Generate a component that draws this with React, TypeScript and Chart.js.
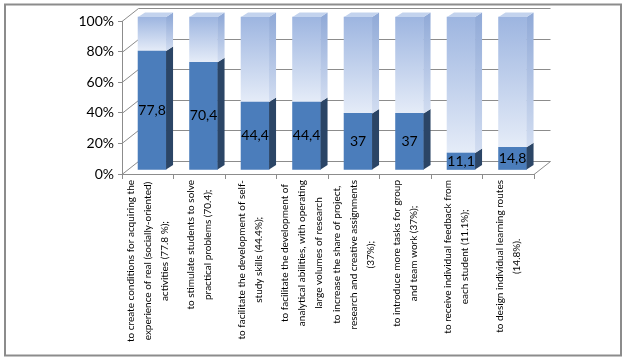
import React, { useEffect, useRef } from 'react';
import { Chart, registerables } from 'chart.js';

Chart.register(...registerables);

// ---- data ----
const categories: string[][] = [
  ['to create conditions for acquiring the', 'experience of real (socially-oriented)', 'activities (77.8 %);'],
  ['to stimulate students to solve', 'practical problems (70.4);'],
  ['to facilitate the development of self-', 'study skills (44.4%);'],
  ['to facilitate the development of', 'analytical abilities, with operating', 'large volumes of research'],
  ['to increase the share of project,', 'research and creative assignments', '(37%);'],
  ['to introduce more tasks for group', 'and team work (37%);'],
  ['to receive individual feedback from', 'each student (11.1%);'],
  ['to design individual learning routes', '(14.8%).'],
];
const shareValues = [77.8, 70.4, 44.4, 44.4, 37, 37, 11.1, 14.8];
const remainderValues = [22.2, 29.6, 55.6, 55.6, 63, 63, 88.9, 85.2];
const valueLabels = ['77,8', '70,4', '44,4', '44,4', '37', '37', '11,1', '14,8'];
const yTickLabels = ['0%', '20%', '40%', '60%', '80%', '100%'];

// ---- styling constants ----
const WALL_DX = 16.5;
const WALL_DY = -13;
const BAR_DX = 4.3;
const BAR_DY = -4;
const SIDE_DX = 7;
const SIDE_DY = -4.5;
const GRID_COLOR = '#8c8c8c';
const LABEL_TOP = 180;
const LABEL_LINE_H = 17;

const threeDPlugin = {
  id: 'threeD',
  beforeDraw(chart: any) {
    const ctx = chart.ctx;
    ctx.save();
    ctx.fillStyle = '#ffffff';
    ctx.fillRect(0, 0, chart.width, chart.height);
    ctx.strokeStyle = '#8c8c8c';
    ctx.lineWidth = 2;
    ctx.strokeRect(5, 4.5, 616, 351);
    ctx.restore();
  },
  beforeDatasetsDraw(chart: any) {
    const { ctx, chartArea: a, scales } = chart;
    const y = scales.y;
    ctx.save();
    ctx.strokeStyle = GRID_COLOR;
    ctx.lineWidth = 1;
    ctx.beginPath();
    y.ticks.forEach((t: any) => {
      const py = Math.round(y.getPixelForValue(t.value)) + 0.5;
      ctx.moveTo(a.left, py);
      ctx.lineTo(a.left + WALL_DX, py + WALL_DY);
      ctx.lineTo(a.right + WALL_DX, py + WALL_DY);
    });
    const pb = Math.round(y.getPixelForValue(0)) + 0.5;
    ctx.moveTo(a.right, pb);
    ctx.lineTo(a.right + WALL_DX, pb + WALL_DY);
    ctx.stroke();
    ctx.restore();
    ctx.save();
    ctx.translate(BAR_DX, BAR_DY);
  },
  afterDatasetsDraw(chart: any) {
    const ctx = chart.ctx;
    const dark = chart.getDatasetMeta(0).data;
    const light = chart.getDatasetMeta(1).data;
    // side faces
    const side = (el: any, fill: any) => {
      const { x, y, base, width } = el.getProps(['x', 'y', 'base', 'width'], true);
      const r = x + width / 2;
      ctx.beginPath();
      ctx.moveTo(r, y);
      ctx.lineTo(r + SIDE_DX, y + SIDE_DY);
      ctx.lineTo(r + SIDE_DX, base + SIDE_DY);
      ctx.lineTo(r, base);
      ctx.closePath();
      ctx.fillStyle = fill;
      ctx.fill();
    };
    dark.forEach((el: any) => side(el, '#2b4566'));
    light.forEach((el: any) => {
      const { y, base } = el.getProps(['y', 'base'], true);
      const g = ctx.createLinearGradient(0, y, 0, base);
      g.addColorStop(0, '#92abd8');
      g.addColorStop(1, '#d2ddf1');
      side(el, g);
      const { x, width } = el.getProps(['x', 'width'], true);
      const l = x - width / 2;
      const r = x + width / 2;
      ctx.beginPath();
      ctx.moveTo(l, y);
      ctx.lineTo(r, y);
      ctx.lineTo(r + SIDE_DX, y + SIDE_DY);
      ctx.lineTo(l + SIDE_DX, y + SIDE_DY);
      ctx.closePath();
      ctx.fillStyle = '#c3d3ee';
      ctx.fill();
    });
    // value labels
    ctx.fillStyle = '#000000';
    ctx.font = '14px Lato';
    ctx.textAlign = 'center';
    ctx.textBaseline = 'middle';
    dark.forEach((el: any, i: number) => {
      const { x, y, base } = el.getProps(['x', 'y', 'base'], true);
      ctx.fillText(valueLabels[i], x, (y + base) / 2);
    });
    ctx.restore();
  },
  afterDraw(chart: any) {
    const ctx = chart.ctx;
    const xs = chart.scales.x;
    ctx.save();
    ctx.font = '10px Lato';
    ctx.fillStyle = '#000000';
    ctx.textAlign = 'center';
    ctx.textBaseline = 'middle';
    categories.forEach((lines, i) => {
      const cx = xs.getPixelForValue(i);
      const maxW = Math.max(...lines.map((l) => ctx.measureText(l).width));
      const cy = LABEL_TOP + maxW / 2;
      lines.forEach((line, k) => {
        const lx = cx + (k - (lines.length - 1) / 2) * LABEL_LINE_H;
        ctx.save();
        ctx.translate(lx, cy);
        ctx.rotate(-Math.PI / 2);
        ctx.fillText(line, 0, 0);
        ctx.restore();
      });
    });
    ctx.restore();
  },
};

export default function App() {
  const ref = useRef<HTMLCanvasElement | null>(null);
  useEffect(() => {
    if (!ref.current) return;
    const chart = new Chart(ref.current, {
      type: 'bar',
      data: {
        labels: categories.map((c) => c.join(' ')),
        datasets: [
          {
            label: 'share',
            data: shareValues,
            backgroundColor: '#4b7dbb',
            barThickness: 28,
            clip: false as any,
          },
          {
            label: 'remainder',
            data: remainderValues,
            barThickness: 28,
            clip: false as any,
            backgroundColor: (c: any) => {
              const chart = c.chart;
              if (!chart.chartArea || c.dataIndex === undefined) return '#c0d0ec';
              const y = chart.scales.y;
              const top = y.getPixelForValue(100);
              const bot = y.getPixelForValue(shareValues[c.dataIndex]);
              const g = chart.ctx.createLinearGradient(0, top, 0, bot);
              g.addColorStop(0, '#9db5e0');
              g.addColorStop(1, '#e5ecf8');
              return g;
            },
          },
        ],
      },
      options: {
        responsive: false,
        animation: false,
        layout: { padding: { top: 21, right: 95, left: 0, bottom: 0 } },
        plugins: { legend: { display: false }, tooltip: { enabled: false } },
        scales: {
          x: {
            stacked: true,
            afterFit: (s: any) => { s.height = 188; },
            grid: { drawOnChartArea: false, tickLength: 5, color: GRID_COLOR },
            border: { color: GRID_COLOR },
            ticks: { display: false },
          },
          y: {
            stacked: true,
            min: 0,
            max: 100,
            afterFit: (s: any) => { s.width = 122; },
            grid: { drawOnChartArea: false, tickLength: 4, color: GRID_COLOR },
            border: { color: GRID_COLOR },
            ticks: {
              stepSize: 20,
              padding: 4,
              color: '#000000',
              font: { family: 'Lato', size: 14 },
              callback: (v: any) => yTickLabels[Math.round(Number(v) / 20)],
            },
          },
        },
      },
      plugins: [threeDPlugin],
    });
    return () => chart.destroy();
  }, []);
  return (
    <canvas
      ref={ref}
      width={629}
      height={362}
      style={{ position: 'absolute', left: 0, top: 0, display: 'block' }}
    />
  );
}
